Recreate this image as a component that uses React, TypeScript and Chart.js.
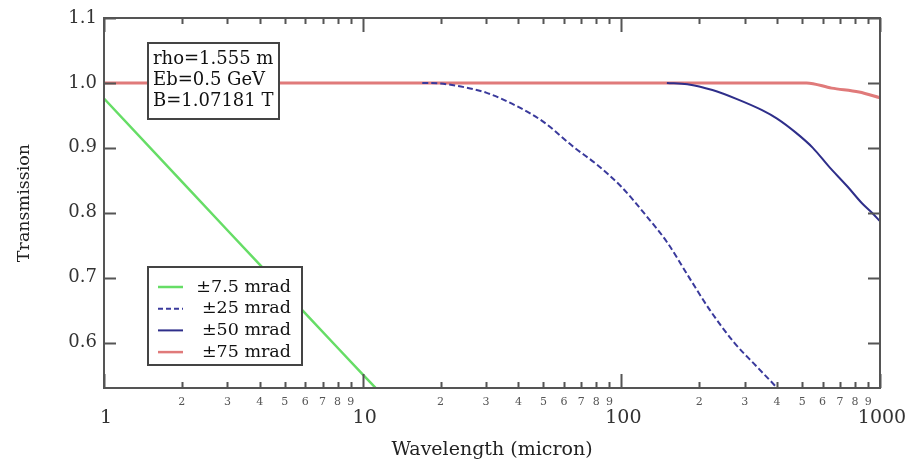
import React, { useEffect, useRef } from "react";
import { Chart, registerables } from "chart.js";

Chart.register(...registerables);

// ---- data ----
const s75x = [1, 2, 3, 4, 5, 6, 8, 10, 12];
const s75y = [0.976, 0.848, 0.773, 0.72, 0.679, 0.645, 0.592, 0.551, 0.518];

const s25x = [17, 20, 25, 30, 40, 50, 66, 80, 100, 125, 150, 183, 220, 273, 330, 400, 420];
const s25y = [1.0, 0.999, 0.993, 0.985, 0.963, 0.94, 0.9, 0.875, 0.84, 0.795, 0.755, 0.7, 0.65, 0.6, 0.565, 0.53, 0.52];

const s50x = [150, 180, 225, 280, 350, 400, 474, 550, 635, 750, 850, 931, 1000];
const s50y = [1.0, 0.998, 0.989, 0.975, 0.958, 0.945, 0.923, 0.9, 0.871, 0.84, 0.815, 0.8, 0.787];

const s75mx = [1, 10, 100, 520, 650, 830, 1000];
const s75my = [1.0, 1.0, 1.0, 1.0, 0.992, 0.986, 0.977];

const seriesLabels = ["±7.5 mrad", "±25 mrad", "±50 mrad", "±75 mrad"];
const seriesColors = ["#66dd66", "#3a3a9c", "#2e2e8a", "#e07a7a"];

const yTickValues = [0.6, 0.7, 0.8, 0.9, 1.0, 1.1];
const xMajorTicks = [1, 10, 100, 1000];
const xMajorLabels = ["1", "10", "100", "1000"];
const xMinorTicks = [2, 3, 4, 5, 6, 7, 8, 9, 20, 30, 40, 50, 60, 70, 80, 90, 200, 300, 400, 500, 600, 700, 800, 900];
const xMinorLabels = ["2", "3", "4", "5", "6", "7", "8", "9", "2", "3", "4", "5", "6", "7", "8", "9", "2", "3", "4", "5", "6", "7", "8", "9"];

const infoLines = ["rho=1.555 m", "Eb=0.5 GeV", "B=1.07181 T"];

const FONT = "'DejaVu Serif', serif";

const pts = (xs: number[], ys: number[]) => xs.map((x, i) => ({ x, y: ys[i] }));

const decorPlugin = {
  id: "decor",
  afterDatasetsDraw(chart: any) {
    const { ctx, chartArea: a } = chart;
    ctx.save();
    // info box
    const ix = a.left + 44, iy = a.top + 25, iw = 131, ih = 76;
    ctx.fillStyle = "#ffffff";
    ctx.fillRect(ix, iy, iw, ih);
    ctx.strokeStyle = "#444";
    ctx.lineWidth = 2;
    ctx.strokeRect(ix, iy, iw, ih);
    ctx.fillStyle = "#111";
    ctx.font = `18px ${FONT}`;
    ctx.textAlign = "left";
    ctx.textBaseline = "middle";
    infoLines.forEach((t, i) => ctx.fillText(t, ix + 5, iy + 16 + i * 21));

    // legend box
    const lx = a.left + 44, ly = a.top + 249, lw = 154, lh = 98;
    ctx.fillStyle = "#ffffff";
    ctx.fillRect(lx, ly, lw, lh);
    ctx.strokeStyle = "#444";
    ctx.lineWidth = 2;
    ctx.strokeRect(lx, ly, lw, lh);
    seriesLabels.forEach((t, i) => {
      const yy = ly + 20 + i * 21.7;
      ctx.beginPath();
      ctx.strokeStyle = seriesColors[i];
      ctx.lineWidth = i === 0 ? 2.5 : i === 3 ? 2.5 : 2;
      ctx.setLineDash(i === 1 ? [5, 3] : []);
      ctx.moveTo(lx + 10, yy);
      ctx.lineTo(lx + 35, yy);
      ctx.stroke();
      ctx.setLineDash([]);
      ctx.fillStyle = "#111";
      ctx.font = `17.5px ${FONT}`;
      ctx.textAlign = "right";
      ctx.fillText(t, lx + lw - 11, yy);
    });
    ctx.restore();
  },
  afterDraw(chart: any) {
    const { ctx, chartArea: a, scales } = chart;
    const x = scales.x, y = scales.y;
    ctx.save();
    ctx.strokeStyle = "#555";
    ctx.lineWidth = 2;
    ctx.strokeRect(a.left, a.top, a.right - a.left, a.bottom - a.top);
    ctx.beginPath();
    yTickValues.forEach((v) => {
      const py = Math.round(y.getPixelForValue(v)) + 0.5;
      ctx.moveTo(a.left, py);
      ctx.lineTo(a.left + 12, py);
      ctx.moveTo(a.right, py);
      ctx.lineTo(a.right - 12, py);
    });
    xMajorTicks.forEach((v) => {
      const px = Math.round(x.getPixelForValue(v)) + 0.5;
      ctx.moveTo(px, a.bottom);
      ctx.lineTo(px, a.bottom - 14);
      ctx.moveTo(px, a.top);
      ctx.lineTo(px, a.top + 14);
    });
    xMinorTicks.forEach((v) => {
      const px = Math.round(x.getPixelForValue(v)) + 0.5;
      ctx.moveTo(px, a.bottom);
      ctx.lineTo(px, a.bottom - 6);
      ctx.moveTo(px, a.top);
      ctx.lineTo(px, a.top + 6);
    });
    ctx.stroke();

    ctx.textAlign = "center";
    ctx.textBaseline = "middle";
    ctx.fillStyle = "#555";
    ctx.font = `11px ${FONT}`;
    xMinorTicks.forEach((v, i) => {
      ctx.fillText(xMinorLabels[i], x.getPixelForValue(v), a.bottom + 14);
    });
    ctx.fillStyle = "#333";
    ctx.font = `19px ${FONT}`;
    xMajorTicks.forEach((v, i) => {
      ctx.fillText(xMajorLabels[i], x.getPixelForValue(v) + 2, a.bottom + 30);
    });
    ctx.restore();
  },
};

export default function App() {
  const ref = useRef<HTMLCanvasElement | null>(null);
  useEffect(() => {
    document.body.style.margin = "0";
    const canvas = ref.current;
    if (!canvas) return;
    const chart = new Chart(canvas, {
      type: "line",
      data: {
        datasets: [
          { label: seriesLabels[0], data: pts(s75x, s75y), borderColor: seriesColors[0], borderWidth: 2.5, pointRadius: 0, tension: 0 },
          { label: seriesLabels[1], data: pts(s25x, s25y), borderColor: seriesColors[1], borderWidth: 2, borderDash: [6, 3], pointRadius: 0, cubicInterpolationMode: "monotone" },
          { label: seriesLabels[2], data: pts(s50x, s50y), borderColor: seriesColors[2], borderWidth: 2, pointRadius: 0, cubicInterpolationMode: "monotone" },
          { label: seriesLabels[3], data: pts(s75mx, s75my), borderColor: seriesColors[3], borderWidth: 3, pointRadius: 0, cubicInterpolationMode: "monotone" },
        ],
      },
      options: {
        animation: false,
        responsive: true,
        maintainAspectRatio: false,
        layout: { padding: { top: 18, right: 27, bottom: 0, left: 0 } },
        plugins: { legend: { display: false }, tooltip: { enabled: false } },
        scales: {
          x: {
            type: "logarithmic",
            min: 1,
            max: 1000,
            ticks: { display: false },
            grid: { display: false, drawTicks: false },
            border: { display: false },
            title: { display: true, text: "Wavelength (micron)", color: "#222", font: { family: FONT, size: 19 }, padding: { top: 0, bottom: 0 } },
            afterFit: (s: any) => { s.height = 73; },
          },
          y: {
            type: "linear",
            min: 0.53,
            max: 1.1,
            afterBuildTicks: (s: any) => { s.ticks = yTickValues.map((v) => ({ value: v })); },
            ticks: { color: "#333", font: { family: FONT, size: 18 }, padding: 7, callback: (v: any) => Number(v).toFixed(1) },
            grid: { display: false, drawTicks: false },
            border: { display: false },
            title: { display: true, text: "Transmission", color: "#222", font: { family: FONT, size: 17.5 }, padding: { top: 14, bottom: 0 } },
            afterFit: (s: any) => { s.width = 104; },
          },
        },
      },
      plugins: [decorPlugin],
    });
    return () => chart.destroy();
  }, []);
  return (
    <div style={{ width: "907px", height: "461px", position: "relative" }}>
      <canvas ref={ref} />
    </div>
  );
}
